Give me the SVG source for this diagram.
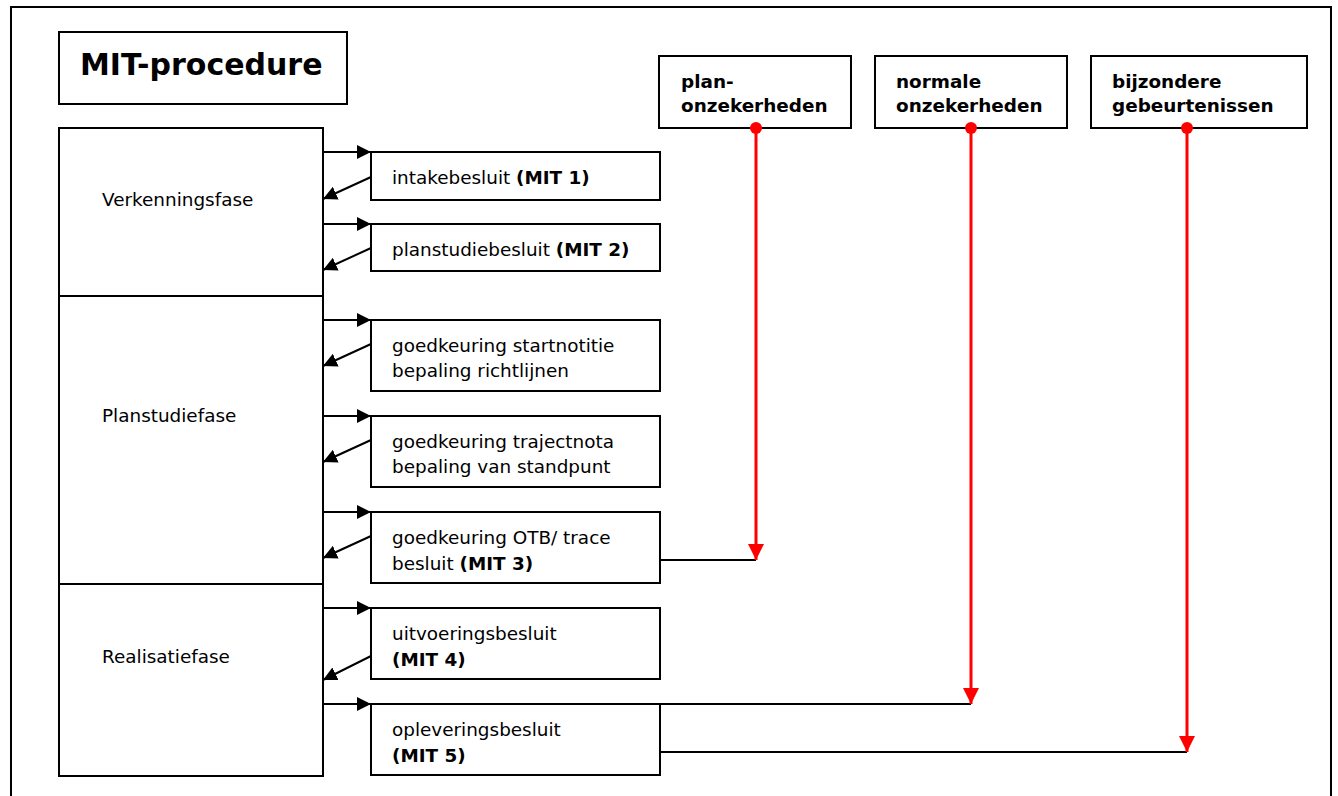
<svg xmlns="http://www.w3.org/2000/svg" width="1338" height="796" viewBox="0 0 1338 796">
<defs>
<style>
.box{fill:#fff;stroke:#000;stroke-width:2}
.t{font-family:"DejaVu Sans","Liberation Sans",sans-serif;font-size:18.4px;fill:#000}
.b{font-weight:bold}
.ln{stroke:#000;stroke-width:2;fill:none}
.red{stroke:#ff0000;stroke-width:3;fill:none}
</style>
<marker id="ah" viewBox="0 0 10 10" refX="10" refY="5" markerWidth="14" markerHeight="14" markerUnits="userSpaceOnUse" orient="auto"><path d="M0,0L10,5L0,10z" fill="#000"/></marker>
<marker id="rh" viewBox="0 0 10 10" refX="10" refY="5" markerWidth="16" markerHeight="16" markerUnits="userSpaceOnUse" orient="auto"><path d="M0,0L10,5L0,10z" fill="#ff0000"/></marker>
</defs>
<rect x="0" y="0" width="1338" height="796" fill="#fff"/>
<path d="M11,798V7H1331V798" class="ln"/>
<g id="title"><rect x="59" y="32" width="288" height="72" class="box"/><text x="80" y="75" class="t b" style="font-size:30px">MIT-procedure</text></g>
<g id="verkenningsfase"><rect x="59" y="128" width="264" height="168" class="box"/><text x="102" y="206" class="t">Verkenningsfase</text></g>
<g id="planstudiefase"><rect x="59" y="296" width="264" height="288" class="box"/><text x="102" y="422" class="t">Planstudiefase</text></g>
<g id="realisatiefase"><rect x="59" y="584" width="264" height="192" class="box"/><text x="102" y="663" class="t">Realisatiefase</text></g>
<g id="mit1"><rect x="371" y="152" width="289" height="48" class="box"/><text x="392" y="184" class="t">intakebesluit <tspan class="b">(MIT 1)</tspan></text></g>
<g id="mit2"><rect x="371" y="224" width="289" height="47" class="box"/><text x="392" y="256" class="t">planstudiebesluit <tspan class="b">(MIT 2)</tspan></text></g>
<g id="startnotitie"><rect x="371" y="320" width="289" height="71" class="box"/><text x="392" y="352" class="t">goedkeuring startnotitie</text><text x="392" y="377" class="t">bepaling richtlijnen</text></g>
<g id="trajectnota"><rect x="371" y="416" width="289" height="71" class="box"/><text x="392" y="448" class="t">goedkeuring trajectnota</text><text x="392" y="473" class="t">bepaling van standpunt</text></g>
<g id="mit3"><rect x="371" y="512" width="289" height="71" class="box"/><text x="392" y="544" class="t">goedkeuring OTB/ trace</text><text x="392" y="570" class="t">besluit <tspan class="b">(MIT 3)</tspan></text></g>
<g id="mit4"><rect x="371" y="608" width="289" height="71" class="box"/><text x="392" y="640" class="t">uitvoeringsbesluit</text><text x="392" y="666" class="t b">(MIT 4)</text></g>
<g id="mit5"><rect x="371" y="704" width="289" height="71" class="box"/><text x="392" y="736" class="t">opleveringsbesluit</text><text x="392" y="762" class="t b">(MIT 5)</text></g>
<g id="plan"><rect x="659" y="56" width="192" height="72" class="box"/><text x="681" y="88" class="t b">plan-</text><text x="681" y="112" class="t b">onzekerheden</text></g>
<g id="normale"><rect x="875" y="56" width="192" height="72" class="box"/><text x="896" y="88" class="t b">normale</text><text x="896" y="112" class="t b">onzekerheden</text></g>
<g id="bijzondere"><rect x="1091" y="56" width="216" height="72" class="box"/><text x="1112" y="88" class="t b">bijzondere</text><text x="1112" y="112" class="t b">gebeurtenissen</text></g>
<g id="connectors">
<path d="M323,152H371" class="ln" marker-end="url(#ah)"/>
<path d="M371,177L323,199" class="ln" marker-end="url(#ah)"/>
<path d="M323,224H371" class="ln" marker-end="url(#ah)"/>
<path d="M371,248L323,270" class="ln" marker-end="url(#ah)"/>
<path d="M323,320H371" class="ln" marker-end="url(#ah)"/>
<path d="M371,344L323,366" class="ln" marker-end="url(#ah)"/>
<path d="M323,416H371" class="ln" marker-end="url(#ah)"/>
<path d="M371,440L323,462" class="ln" marker-end="url(#ah)"/>
<path d="M323,512H371" class="ln" marker-end="url(#ah)"/>
<path d="M371,536L323,558" class="ln" marker-end="url(#ah)"/>
<path d="M323,608H371" class="ln" marker-end="url(#ah)"/>
<path d="M371,656L323,680" class="ln" marker-end="url(#ah)"/>
<path d="M323,704H371" class="ln" marker-end="url(#ah)"/>
<path d="M660,560H756" class="ln"/>
<path d="M660,704H971" class="ln"/>
<path d="M660,752H1187" class="ln"/>
<path d="M756,128V560" class="red" marker-end="url(#rh)"/>
<path d="M971,128V704" class="red" marker-end="url(#rh)"/>
<path d="M1187,128V752" class="red" marker-end="url(#rh)"/>
<circle cx="756" cy="128" r="6" fill="#ff0000"/>
<circle cx="971" cy="128" r="6" fill="#ff0000"/>
<circle cx="1187" cy="128" r="6" fill="#ff0000"/>
</g>
</svg>
